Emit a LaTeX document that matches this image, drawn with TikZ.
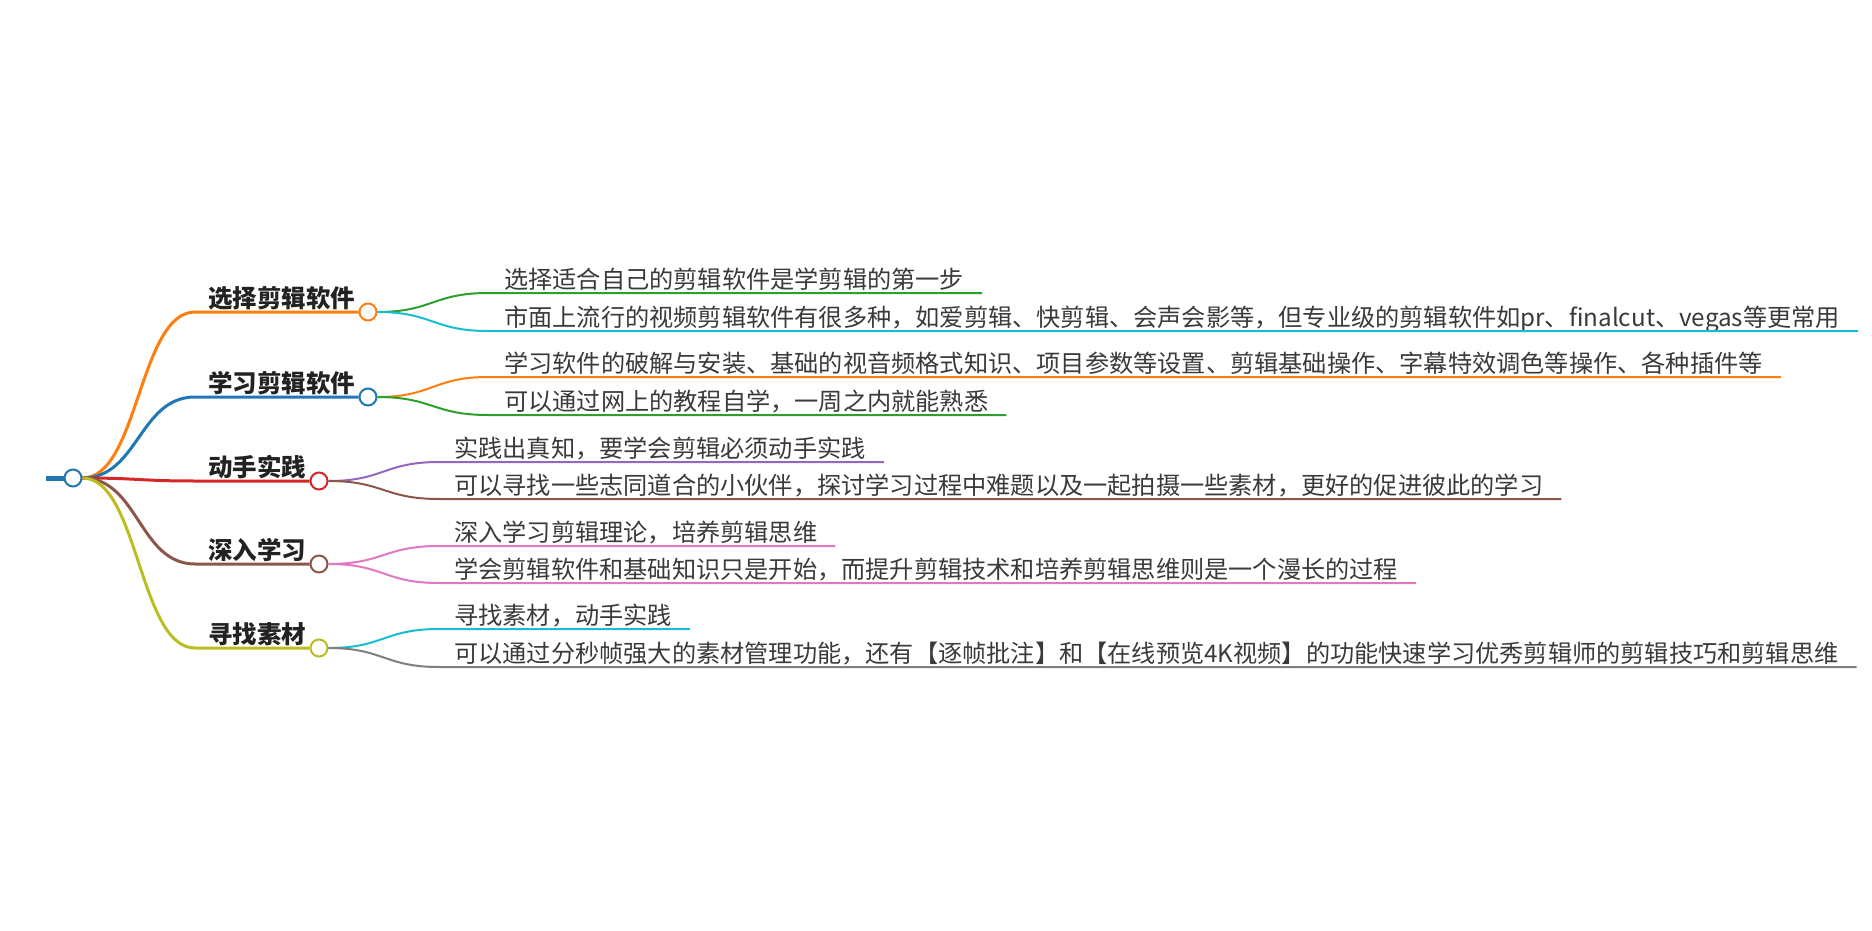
\documentclass[tikz,border=0pt]{standalone}
\usepackage{fontspec}
\newfontfamily\cjk{Noto Sans CJK SC}
\definecolor{cblue}{HTML}{1F77B4}
\definecolor{corange}{HTML}{FF7F0E}
\definecolor{cred}{HTML}{D62728}
\definecolor{cbrown}{HTML}{8C564B}
\definecolor{colive}{HTML}{BCBD22}
\definecolor{cgreen}{HTML}{2CA02C}
\definecolor{ccyan}{HTML}{17BECF}
\definecolor{cpurple}{HTML}{9467BD}
\definecolor{cpink}{HTML}{E377C2}
\definecolor{cgray}{HTML}{7F7F7F}
\definecolor{txtdark}{HTML}{222222}
\definecolor{txtgray}{HTML}{3A3A3A}
\begin{document}
\begin{tikzpicture}[x=1pt,y=-1pt,
  circ/.style={circle,draw,fill=white,line width=2pt,minimum size=17pt,inner sep=0pt},
  lone/.style={line width=3pt},
  ltwo/.style={line width=2pt},
  tone/.style={font=\cjk\bfseries\fontsize{24.5}{28}\selectfont,text=txtdark,inner sep=0pt,anchor=base west},
  ttwo/.style={font=\cjk\fontsize{24.2}{28}\selectfont,text=txtgray,inner sep=0pt,anchor=base west}]
\useasboundingbox (0,0) rectangle (1872,931);
\fill[white] (0,0) rectangle (1872,931);

% root
\node[circ,draw=cblue] (root) at (73,478) {};
\coordinate (stub) at (46,478);
\draw[cblue,line width=5pt] (stub) -- (root.west);

% level 1
\node[circ,draw=corange] (c1) at (368,312) {};
\node[circ,draw=cblue]   (c2) at (368,397) {};
\node[circ,draw=cred]    (c3) at (319,481) {};
\node[circ,draw=cbrown]  (c4) at (319,564) {};
\node[circ,draw=colive]  (c5) at (319,648) {};
\node[tone] (n1) at (208,307) {选择剪辑软件};
\node[tone] (n2) at (208,392) {学习剪辑软件};
\node[tone] (n3) at (208,476) {动手实践};
\node[tone] (n4) at (208,559) {深入学习};
\node[tone] (n5) at (208,643) {寻找素材};
\coordinate (h1) at (195,312);
\coordinate (h2) at (195,397);
\coordinate (h3) at (195,481);
\coordinate (h4) at (195,564);
\coordinate (h5) at (195,648);
\draw[lone,corange] (root.east) .. controls +(56,0) and +(-56,0) .. (h1) -- (c1.west);
\draw[lone,cblue]   (root.east) .. controls +(56,0) and +(-56,0) .. (h2) -- (c2.west);
\draw[lone,cred]    (root.east) .. controls +(56,0) and +(-56,0) .. (h3) -- (c3.west);
\draw[lone,cbrown]  (root.east) .. controls +(56,0) and +(-56,0) .. (h4) -- (c4.west);
\draw[lone,colive]  (root.east) .. controls +(56,0) and +(-56,0) .. (h5) -- (c5.west);

% level 2 texts
\node[ttwo] (s11) at (504,288) {选择适合自己的剪辑软件是学剪辑的第一步};
\node[ttwo] (s12) at (504,326) {市面上流行的视频剪辑软件有很多种，如爱剪辑、快剪辑、会声会影等，但专业级的剪辑软件如pr、finalcut、vegas等更常用};
\node[ttwo] (s21) at (504,372) {学习软件的破解与安装、基础的视音频格式知识、项目参数等设置、剪辑基础操作、字幕特效调色等操作、各种插件等};
\node[ttwo] (s22) at (504,410) {可以通过网上的教程自学，一周之内就能熟悉};
\node[ttwo] (s31) at (454,457) {实践出真知，要学会剪辑必须动手实践};
\node[ttwo] (s32) at (454,494) {可以寻找一些志同道合的小伙伴，探讨学习过程中难题以及一起拍摄一些素材，更好的促进彼此的学习};
\node[ttwo] (s41) at (454,541) {深入学习剪辑理论，培养剪辑思维};
\node[ttwo] (s42) at (454,578) {学会剪辑软件和基础知识只是开始，而提升剪辑技术和培养剪辑思维则是一个漫长的过程};
\node[ttwo] (s51) at (454,624) {寻找素材，动手实践};
\node[ttwo] (s52) at (454,662) {可以通过分秒帧强大的素材管理功能，还有【逐帧批注】和【在线预览4K视频】的功能快速学习优秀剪辑师的剪辑技巧和剪辑思维};

% level 2 knees
\coordinate (k11) at (488,293);
\coordinate (k12) at (488,331);
\coordinate (k21) at (488,377);
\coordinate (k22) at (488,415);
\coordinate (k31) at (439,462);
\coordinate (k32) at (439,499);
\coordinate (k41) at (439,546);
\coordinate (k42) at (439,583);
\coordinate (k51) at (439,629);
\coordinate (k52) at (439,667);
\coordinate (e11) at (s11.east |- k11);
\coordinate (e12) at (s12.east |- k12);
\coordinate (e21) at (s21.east |- k21);
\coordinate (e22) at (s22.east |- k22);
\coordinate (e31) at (s31.east |- k31);
\coordinate (e32) at (s32.east |- k32);
\coordinate (e41) at (s41.east |- k41);
\coordinate (e42) at (s42.east |- k42);
\coordinate (e51) at (s51.east |- k51);
\coordinate (e52) at (s52.east |- k52);

\draw[ltwo,cgreen]  (c1.east) .. controls +(55,0) and +(-55,0) .. (k11) -- ([xshift=18pt]e11);
\draw[ltwo,ccyan]   (c1.east) .. controls +(55,0) and +(-55,0) .. (k12) -- ([xshift=18pt]e12);
\draw[ltwo,corange] (c2.east) .. controls +(55,0) and +(-55,0) .. (k21) -- ([xshift=18pt]e21);
\draw[ltwo,cgreen]  (c2.east) .. controls +(55,0) and +(-55,0) .. (k22) -- ([xshift=18pt]e22);
\draw[ltwo,cpurple] (c3.east) .. controls +(55,0) and +(-55,0) .. (k31) -- ([xshift=18pt]e31);
\draw[ltwo,cbrown]  (c3.east) .. controls +(55,0) and +(-55,0) .. (k32) -- ([xshift=18pt]e32);
\draw[ltwo,cpink]   (c4.east) .. controls +(55,0) and +(-55,0) .. (k41) -- ([xshift=18pt]e41);
\draw[ltwo,cpink]   (c4.east) .. controls +(55,0) and +(-55,0) .. (k42) -- ([xshift=18pt]e42);
\draw[ltwo,ccyan]   (c5.east) .. controls +(55,0) and +(-55,0) .. (k51) -- ([xshift=18pt]e51);
\draw[ltwo,cgray]   (c5.east) .. controls +(55,0) and +(-55,0) .. (k52) -- ([xshift=18pt]e52);
\end{tikzpicture}
\end{document}
